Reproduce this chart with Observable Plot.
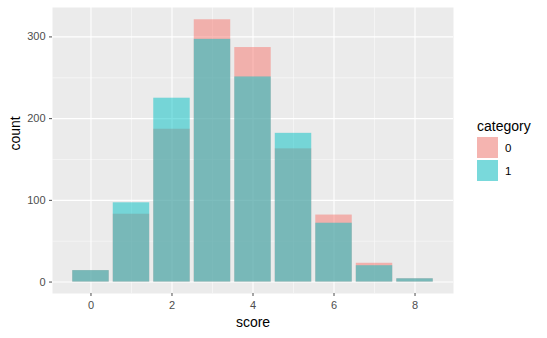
<!DOCTYPE html>
<html><head><meta charset="utf-8">
<script src="https://cdn.jsdelivr.net/npm/d3@7"></script>
<script src="https://cdn.jsdelivr.net/npm/@observablehq/plot@0.6"></script>
<style>
body{margin:0;background:#fff;font-family:"Liberation Sans",Arial,sans-serif;}
#wrap{position:relative;width:547px;height:338px;}
#legend{position:absolute;left:477px;top:117px;color:#000;}
#legend .title{font-size:14px;line-height:18px;margin-bottom:2px;}
#legend .row{display:flex;align-items:center;height:21px;margin-bottom:2px;}
#legend .key{width:21px;height:21px;background:#F2F2F2;position:relative;}
#legend .key span{position:absolute;inset:0;opacity:0.5;}
#legend .lab{font-size:11.5px;margin-left:7px;color:#000;}
</style></head><body><div id="wrap"></div>
<script>
const scores = [0, 1, 2, 3, 4, 5, 6, 7, 8];
const cat0 = [14, 83, 187, 321, 287, 163, 82, 23, 4];
const cat1 = [14, 97, 225, 297, 251, 182, 72, 20, 4];
const categories = ["0", "1"];
const colors = ["#F8766D", "#00BFC4"];
const xTicks = [0, 2, 4, 6, 8];
const xMinor = [1, 3, 5, 7];
const yTicks = [0, 100, 200, 300];
const yMinor = [50, 150, 250];

const data = categories.flatMap((c, i) =>
  scores.map((s, j) => ({score: s, count: (i ? cat1 : cat0)[j], category: c})));

const chart = Plot.plot({
  width: 547, height: 338,
  marginLeft: 52, marginRight: 94, marginTop: 7, marginBottom: 45,
  style: {fontFamily: "Liberation Sans, Arial, sans-serif", fontSize: "11px", background: "white"},
  x: {domain: [-0.95, 8.95]},
  y: {domain: [-14, 336]},
  color: {domain: categories, range: colors},
  marks: [
    Plot.frame({fill: "#EBEBEB", stroke: null}),
    Plot.ruleX(xMinor, {stroke: "#FAFAFA", strokeWidth: 0.6}),
    Plot.ruleY(yMinor, {stroke: "#FAFAFA", strokeWidth: 0.6}),
    Plot.ruleX(xTicks, {stroke: "white", strokeWidth: 1.1}),
    Plot.ruleY(yTicks, {stroke: "white", strokeWidth: 1.1}),
    Plot.rectY(data, {x1: d => d.score - 0.45, x2: d => d.score + 0.45, y1: 0, y2: "count", fill: "category", fillOpacity: 0.5}),
    Plot.axisX(xTicks, {tickSize: 3, tickPadding: 5, color: "#4D4D4D", label: null, fontSize: 11}),
    Plot.axisY(yTicks, {tickSize: 3, tickPadding: 4, color: "#4D4D4D", label: null, fontSize: 11}),
    Plot.text(["score"], {frameAnchor: "bottom", dy: 33, fontSize: 14, fill: "black"}),
    Plot.text(["count"], {frameAnchor: "left", dx: -37, rotate: -90, fontSize: 14, fill: "black"})
  ]
});
const wrap = document.getElementById("wrap");
wrap.appendChild(chart);
const leg = document.createElement("div");
leg.id = "legend";
leg.innerHTML = `<div class="title">category</div>` + categories.map((c, i) =>
  `<div class="row"><div class="key"><span style="background:${colors[i]}"></span></div><div class="lab">${c}</div></div>`).join("");
wrap.appendChild(leg);
</script></body></html>
